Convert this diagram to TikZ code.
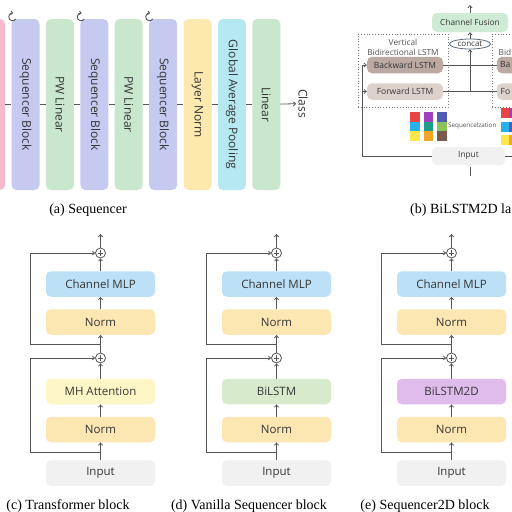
\documentclass[tikz,border=0pt]{standalone}
\usepackage{fontspec}
\setmainfont{Open Sans}
\newfontfamily\capfont{Liberation Serif}
\usetikzlibrary{arrows.meta,shapes.geometric}
\definecolor{pinkc}{HTML}{F6B9CB}
\definecolor{seqc}{HTML}{C6CAF0}
\definecolor{pwc}{HTML}{C9E7CD}
\definecolor{lnc}{HTML}{FDE9AE}
\definecolor{gapc}{HTML}{B5E8F1}
\definecolor{txt}{HTML}{353535}
\definecolor{lin}{HTML}{555555}
\definecolor{mlpcol}{HTML}{BCE0F6}
\definecolor{normcol}{HTML}{FCE6B1}
\definecolor{mhcol}{HTML}{FEF6C6}
\definecolor{bicol}{HTML}{D7EBCC}
\definecolor{bitwocol}{HTML}{DFBCEB}
\definecolor{ingray}{HTML}{F1F1F1}
\definecolor{cfcol}{HTML}{CFEBD6}
\definecolor{bwcol}{HTML}{BBA9A2}
\definecolor{fwcol}{HTML}{DDD1CC}
\definecolor{sqred}{HTML}{E84545}
\definecolor{sqcyan}{HTML}{29B0EE}
\definecolor{sqyel}{HTML}{FBE74A}
\definecolor{sqpur}{HTML}{A040BE}
\definecolor{sqteal}{HTML}{1E9C88}
\definecolor{sqora}{HTML}{F5A623}
\definecolor{sqind}{HTML}{4F5DB5}
\definecolor{sqgrn}{HTML}{8BC35A}
\definecolor{sqbrn}{HTML}{7A5A4A}
\definecolor{ellc}{HTML}{5A6A7A}
\tikzset{
  bar/.style={rounded corners=5pt, minimum width=171pt, minimum height=28pt, rotate=-90,
    inner sep=0pt, font=\fontsize{12}{14}\selectfont, text=txt},
  blk/.style={rounded corners=5pt, minimum width=109pt, minimum height=25.5pt, inner sep=0pt,
    font=\fontsize{11.5}{13}\selectfont, text=txt},
  lstm/.style={rounded corners=5pt, minimum width=76pt, minimum height=16.5pt, inner sep=0pt,
    font=\fontsize{8.5}{10}\selectfont, text=txt},
  lstmtxt/.style={inner sep=0pt, font=\fontsize{8.5}{10}\selectfont, text=txt},
  small/.style={font=\fontsize{8.3}{10}\selectfont, text=txt},
  ln/.style={draw=lin, line width=0.8pt},
  arr/.style={ln, -{Straight Barb[length=2.2pt,width=4pt]}},
  plusn/.style={circle, draw=lin, line width=0.8pt, minimum size=10pt, inner sep=0pt},
  icn/.style={draw=lin, line width=0.9pt, {Straight Barb[length=1.8pt,width=3.5pt]}-},
  dotbox/.style={draw=lin!80, dotted, line width=0.8pt, inner sep=0pt},
  captxt/.style={font=\capfont\fontsize{14}{16}\selectfont, text=black}
}
\begin{document}
\begin{tikzpicture}[x=1pt,y=-1pt]
\useasboundingbox (0,0) rectangle (512,512);
\clip (0,0) rectangle (512,512);
\fill[white] (0,0) rectangle (512,512);

% ---------------- (a) Sequencer ----------------
\node[bar, fill=pinkc] (s0) at (-9,104.5) {};
\node[bar, fill=seqc] (s1) at (25.5,104.5) {Sequencer Block};
\node[bar, fill=pwc] (s2) at (59.9,104.5) {PW Linear};
\node[bar, fill=seqc] (s3) at (94.3,104.5) {Sequencer Block};
\node[bar, fill=pwc] (s4) at (128.7,104.5) {PW Linear};
\node[bar, fill=seqc] (s5) at (163.1,104.5) {Sequencer Block};
\node[bar, fill=lnc] (s6) at (197.5,104.5) {Layer Norm};
\node[bar, fill=gapc] (s7) at (231.9,104.5) {Global Average Pooling};
\node[bar, fill=pwc] (s8) at (266.3,104.5) {Linear};
\node[rotate=-90, inner sep=2pt, font=\fontsize{12}{14}\selectfont, text=txt] (cls) at (303,103.5) {Class};
\draw[ln] (s0) -- (s1);
\draw[ln] (s1) -- (s2);
\draw[ln] (s2) -- (s3);
\draw[ln] (s3) -- (s4);
\draw[ln] (s4) -- (s5);
\draw[ln] (s5) -- (s6);
\draw[ln] (s6) -- (s7);
\draw[ln] (s7) -- (s8);
\draw[arr] (s8) -- (cls);
\foreach \ix in {12.5,81,149.5}{
  \draw[icn] (\ix,17) ++(80:3.8pt) arc[start angle=80, end angle=330, radius=3.8pt];
}
\node[captxt] (capa) at (88,210) {(a) Sequencer};

% ---------------- (b) BiLSTM2D layer ----------------
\node[rounded corners=5pt, minimum width=76pt, minimum height=19pt, inner sep=0pt, fill=cfcol,
  font=\fontsize{8.3}{10}\selectfont, text=txt] (cf) at (470,22.5) {Channel Fusion};
\coordinate (cftop) at (470,5);
\node[ellipse, draw=ellc, line width=0.8pt, fill=white, minimum width=41pt, minimum height=10pt,
  inner sep=0pt, font=\fontsize{8}{9}\selectfont, text=txt] (cc) at (470,44) {concat};
\node[dotbox, minimum width=90pt, minimum height=73pt] (vbox) at (403,70.5) {};
\node[dotbox, minimum width=90pt, minimum height=73pt] (vbox2) at (537,70.5) {};
\node[small, align=center, text=lin] (vlab) at (403,47) {Vertical\\Bidirectional LSTM};
\node[small, anchor=west, text=lin, inner sep=0pt] (vlab2) at (498.5,52) {Bid};
\node[lstm, fill=bwcol] (bw) at (405,65) {Backward LSTM};
\node[lstm, fill=fwcol] (fw) at (405,91.5) {Forward LSTM};
\node[lstm, fill=bwcol] (bw2) at (535,65) {};
\node[lstm, fill=fwcol] (fw2) at (535,91.5) {};
\node[lstmtxt, anchor=west] (bw2t) at (500,65) {Ba};
\node[lstmtxt, anchor=west] (fw2t) at (500.5,91.5) {Fo};
\node[rounded corners=5pt, minimum width=73pt, minimum height=18pt, inner sep=0pt, fill=ingray,
  font=\fontsize{8.3}{10}\selectfont, text=txt] (inp) at (468.5,156) {Input};
\coordinate (lt) at (362,65);
\coordinate (lf) at (362,91.5);
\coordinate (lb) at (362,156);
\coordinate (jf) at (470,91.5);
\coordinate (rin) at (512,156);
\coordinate (ib1) at (470,167);
\coordinate (ib2) at (470,176);
\draw[ln] (bw.east) -- (bw2.west);
\draw[ln] (fw.east) -- (fw2.west);
\draw[arr] (jf) -- (cc.south);
\draw[arr] (cc) -- (cf);
\draw[arr] (cf) -- (cftop);
\draw[arr] (lt) -- (bw.west);
\draw[arr] (lf) -- (fw.west);
\draw[ln] (lt) -- (lb) -- (inp.west);
\draw[ln] (inp.east) -- (rin);
\draw[ln] (ib1) -- (ib2);
% sequencialization squares
\fill[sqred] (410,112) rectangle (419.5,121.5);
\fill[sqcyan] (410,121.5) rectangle (419.5,131);
\fill[sqyel] (410,131) rectangle (419.5,140.5);
\fill[sqpur] (423.5,112) rectangle (433,121.5);
\fill[sqteal] (423.5,121.5) rectangle (433,131);
\fill[sqora] (423.5,131) rectangle (433,140.5);
\fill[sqind] (437,112) rectangle (446.5,121.5);
\fill[sqgrn] (437,121.5) rectangle (446.5,131);
\fill[sqbrn] (437,131) rectangle (446.5,140.5);
\fill[sqred] (501,108) rectangle (509,118);
\fill[sqpur] (509,108) rectangle (513,118);
\fill[sqcyan] (501,122) rectangle (509,132);
\fill[sqind] (509,122) rectangle (513,132);
\fill[sqyel] (501,135) rectangle (509,145);
\fill[sqora] (509,135) rectangle (513,145);
\node[anchor=west, inner sep=0pt, font=\fontsize{6.3}{7}\selectfont, text=lin] (seqz) at (448,126) {Sequencelzation};
\node[captxt, anchor=west, inner sep=0pt] (capb) at (410,210) {(b) BiLSTM2D la};

% ---------------- (c)(d)(e) blocks ----------------
\foreach \cx/\nm/\lab/\col in {100.5/c/MH Attention/mhcol, 276.5/d/BiLSTM/bicol, 451.5/e/BiLSTM2D/bitwocol}{
  \node[blk, fill=ingray] (\nm-in) at (\cx,473) {Input};
  \node[blk, fill=normcol] (\nm-n1) at (\cx,429.5) {Norm};
  \node[blk, fill=\col] (\nm-mix) at (\cx,391.5) {\lab};
  \node[plusn] (\nm-p1) at (\cx,358) {};
  \node[blk, fill=normcol] (\nm-n2) at (\cx,322) {Norm};
  \node[blk, fill=mlpcol] (\nm-mlp) at (\cx,284) {Channel MLP};
  \node[plusn] (\nm-p2) at (\cx,253) {};
  \coordinate (\nm-out) at (\cx,234);
  \coordinate (\nm-j1) at (\cx,452);
  \coordinate (\nm-j2) at (\cx,344);
  \coordinate (\nm-s1) at (\cx-70,452);
  \coordinate (\nm-s2) at (\cx-70,344);
  \draw[arr] (\nm-in) -- (\nm-n1);
  \draw[arr] (\nm-n1) -- (\nm-mix);
  \draw[arr] (\nm-mix) -- (\nm-p1);
  \draw[arr] (\nm-p1) -- (\nm-n2);
  \draw[arr] (\nm-n2) -- (\nm-mlp);
  \draw[arr] (\nm-mlp) -- (\nm-p2);
  \draw[arr] (\nm-p2) -- (\nm-out);
  \draw[arr] (\nm-j1) -- (\nm-s1) |- (\nm-p1.west);
  \draw[arr] (\nm-j2) -- (\nm-s2) |- (\nm-p2.west);
  \draw[ln] (\nm-p1.center) +(-2.6,0) -- +(2.6,0) (\nm-p1.center) +(0,-2.6) -- +(0,2.6);
  \draw[ln] (\nm-p2.center) +(-2.6,0) -- +(2.6,0) (\nm-p2.center) +(0,-2.6) -- +(0,2.6);
}
\node[captxt] (capc) at (68,506) {(c) Transformer block};
\node[captxt] (capd) at (249,506) {(d) Vanilla Sequencer block};
\node[captxt] (cape) at (425,506) {(e) Sequencer2D block};
\end{tikzpicture}
\end{document}
